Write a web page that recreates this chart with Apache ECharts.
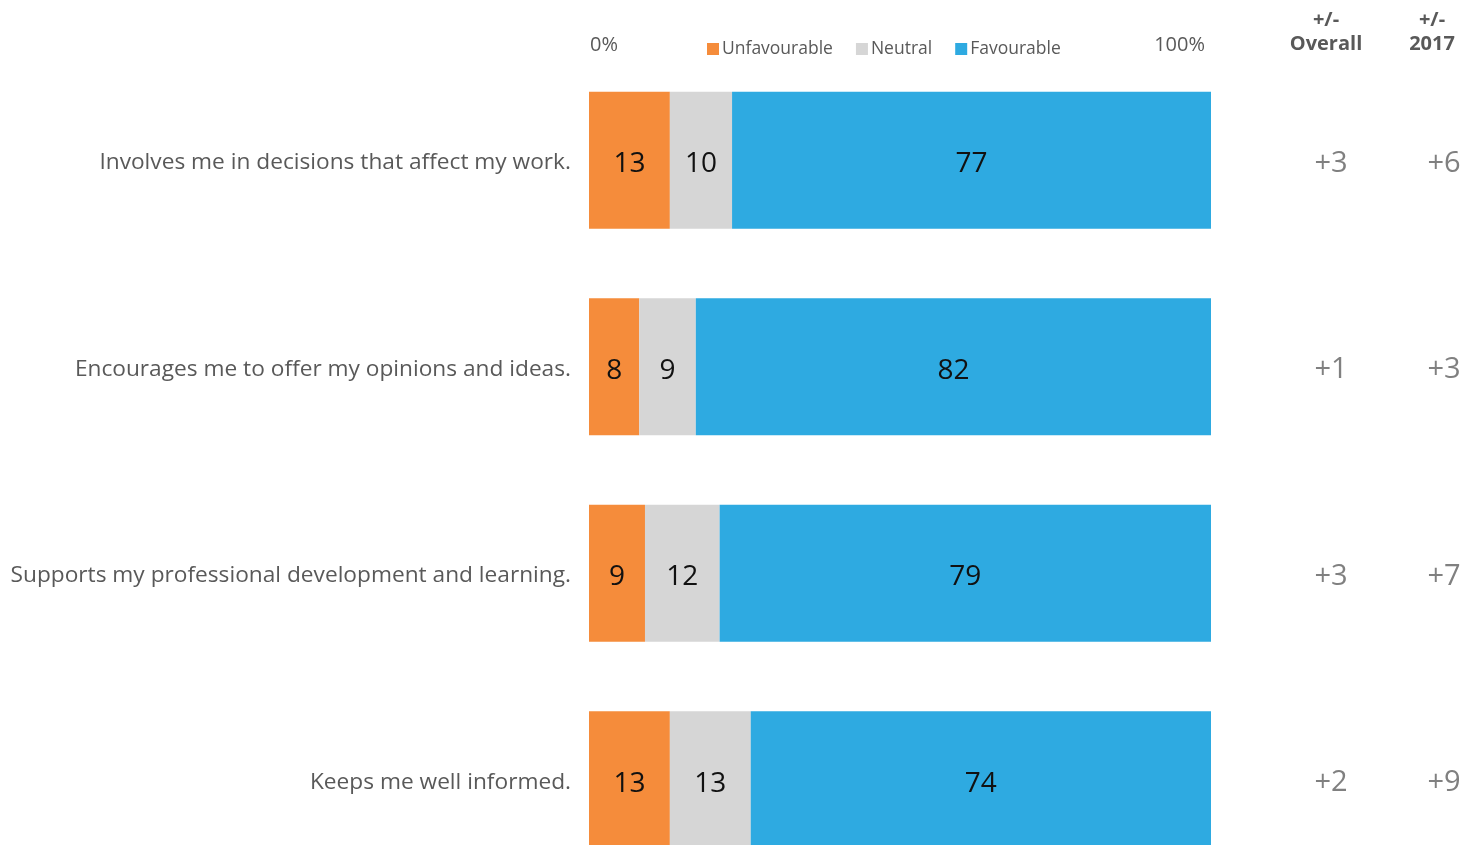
<!DOCTYPE html>
<html><head><meta charset="utf-8">
<script src="https://cdn.jsdelivr.net/npm/echarts@6/dist/echarts.min.js"></script>
<style>html,body{margin:0;padding:0;background:#fff}#c{width:1462px;height:845px}</style>
</head><body><div id="c"></div>
<script>
const categories = [
  'Involves me in decisions that affect my work.',
  'Encourages me to offer my opinions and ideas.',
  'Supports my professional development and learning.',
  'Keeps me well informed.'
];
const unfavourable = [13, 8, 9, 13];
const neutral = [10, 9, 12, 13];
const favourable = [77, 82, 79, 74];
const diffOverall = ['+3', '+1', '+3', '+2'];
const diff2017 = ['+6', '+3', '+7', '+9'];
const seriesNames = ['Unfavourable', 'Neutral', 'Favourable'];

const FONT = '"Open Sans", "Noto Sans", sans-serif';
const totals = categories.map((_, i) => unfavourable[i] + neutral[i] + favourable[i]);
const share = arr => arr.map((v, i) => v / totals[i] * 100);
const raw = [unfavourable, neutral, favourable];
const colors = ['#F58C3B', '#D6D6D6', '#2EAAE1'];

const chart = echarts.init(document.getElementById('c'), null, {renderer: 'canvas'});
const sideAxis = (data, offset, margin, name) => ({
  type: 'category', inverse: true, position: 'right', offset: offset,
  data: data,
  axisLine: {show: false}, axisTick: {show: false},
  axisLabel: {margin: margin, align: 'center', fontFamily: FONT,
              formatter: v => '{a|' + v + '}',
              rich: {a: {fontSize: 29, color: '#808080', fontFamily: FONT, padding: [6, 0, 0, 0]}}},
  name: name, nameLocation: 'start', nameGap: 1,
  nameTextStyle: {fontSize: 20, fontWeight: 'bold', color: '#595959', fontFamily: FONT,
                  align: 'center', verticalAlign: 'bottom', lineHeight: 24}
});
chart.setOption({
  animation: false,
  textStyle: {fontFamily: FONT},
  legend: {
    left: 702, top: 35, itemWidth: 12, itemHeight: 12, itemGap: 23,
    icon: 'rect', data: seriesNames,
    textStyle: {fontSize: 17.5, color: '#595959', fontFamily: FONT, padding: [0, 0, 0, -2]}
  },
  grid: {left: 589, top: 57, width: 622, height: 826, containLabel: false, outerBoundsMode: 'none'},
  xAxis: {
    type: 'value', position: 'top', min: 0, max: 100, interval: 100,
    axisLine: {show: false}, axisTick: {show: false}, splitLine: {show: false},
    axisLabel: {formatter: '{value}%', fontSize: 20, color: '#595959', margin: 2,
                alignMinLabel: 'left', alignMaxLabel: 'right', fontFamily: FONT,
                padding: [0, 6, 0, 1]}
  },
  yAxis: [
    {
      type: 'category', inverse: true, data: categories,
      axisLine: {show: false}, axisTick: {show: false},
      axisLabel: {margin: 18, fontFamily: FONT,
                  formatter: v => '{a|' + v + '}',
                  rich: {a: {fontSize: 22.7, color: '#595959', fontFamily: FONT, padding: [5, 0, 0, 0]}}}
    },
    sideAxis(diffOverall, 115, 5, '+/-\nOverall'),
    sideAxis(diff2017, 221, 12, '+/-\n2017')
  ],
  series: seriesNames.map((n, k) => ({
    name: n, type: 'bar', stack: 'total', barWidth: 137,
    itemStyle: {color: colors[k]},
    label: {show: true, position: 'inside', fontSize: 28, color: '#111', fontFamily: FONT,
            offset: [0, 4],
            formatter: p => String(raw[k][p.dataIndex])},
    data: share(raw[k])
  }))
});
</script></body></html>
